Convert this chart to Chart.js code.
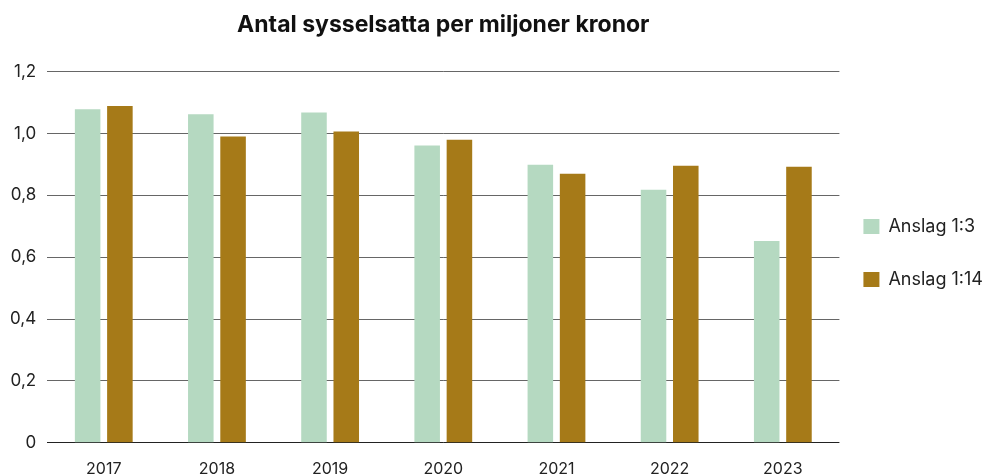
<!DOCTYPE html>
<html lang="sv">
<head>
<meta charset="utf-8">
<title>Antal sysselsatta per miljoner kronor</title>
<script src="https://cdn.jsdelivr.net/npm/chart.js@4.4.1/dist/chart.umd.min.js"></script>
<style>
  html, body { margin: 0; padding: 0; background: #fff; overflow: hidden; }
  #wrap { position: relative; width: 986px; height: 488px; }
</style>
</head>
<body>
<div id="wrap"><canvas id="chart"></canvas></div>
<script>
// Data
const years = ['2017', '2018', '2019', '2020', '2021', '2022', '2023'];
const anslag3 = [1.078, 1.062, 1.068, 0.961, 0.899, 0.818, 0.652];
const anslag14 = [1.089, 0.990, 1.006, 0.980, 0.870, 0.896, 0.892];
const seriesNames = ['Anslag 1:3', 'Anslag 1:14'];

const fontFamily = 'Inter, "Noto Sans", sans-serif';

// nudge the legend a little closer to the plot
const legendNudge = {
    id: 'legendNudge',
    afterLayout(chart) {
        const lg = chart.legend;
        if (!lg) return;
        lg.left -= 11;
        lg.right -= 11;
        lg.top += 5;
        lg.bottom += 5;
    }
};

const ctx = document.getElementById('chart').getContext('2d');
new Chart(ctx, {
    type: 'bar',
    data: {
        labels: years,
        datasets: [
            {
                label: seriesNames[0],
                data: anslag3,
                backgroundColor: '#b5d9c1',
                borderWidth: 0,
                categoryPercentage: 0.57,
                barPercentage: 0.792
            },
            {
                label: seriesNames[1],
                data: anslag14,
                backgroundColor: '#a67a18',
                borderWidth: 0,
                categoryPercentage: 0.57,
                barPercentage: 0.792
            }
        ]
    },
    plugins: [legendNudge],
    options: {
        responsive: true,
        maintainAspectRatio: false,
        animation: false,
        layout: {
            padding: { left: -1, right: -18, top: 8, bottom: 0 }
        },
        plugins: {
            title: {
                display: true,
                text: 'Antal sysselsatta per miljoner kronor',
                fullSize: false,
                color: '#111',
                font: { family: fontFamily, size: 23, weight: '700' },
                padding: { top: 3, bottom: 33 }
            },
            legend: {
                position: 'right',
                align: 'center',
                labels: {
                    boxWidth: 16,
                    boxHeight: 15,
                    padding: 35,
                    color: '#222',
                    font: { family: fontFamily, size: 18 }
                }
            },
            tooltip: { enabled: false }
        },
        scales: {
            x: {
                grid: { display: false },
                border: { display: false },
                ticks: {
                    color: '#222',
                    padding: 9,
                    font: { family: fontFamily, size: 16 }
                }
            },
            y: {
                min: 0,
                max: 1.2,
                border: { display: false },
                grid: {
                    drawTicks: false,
                    color: (c) => c.tick && c.tick.value === 0 ? '#222' : '#666'
                },
                ticks: {
                    stepSize: 0.2,
                    padding: 11,
                    color: '#222',
                    font: { family: fontFamily, size: 17 },
                    callback: (v) => v === 0 ? '0' : v.toFixed(1).replace('.', ',')
                }
            }
        }
    }
});
</script>
</body>
</html>
